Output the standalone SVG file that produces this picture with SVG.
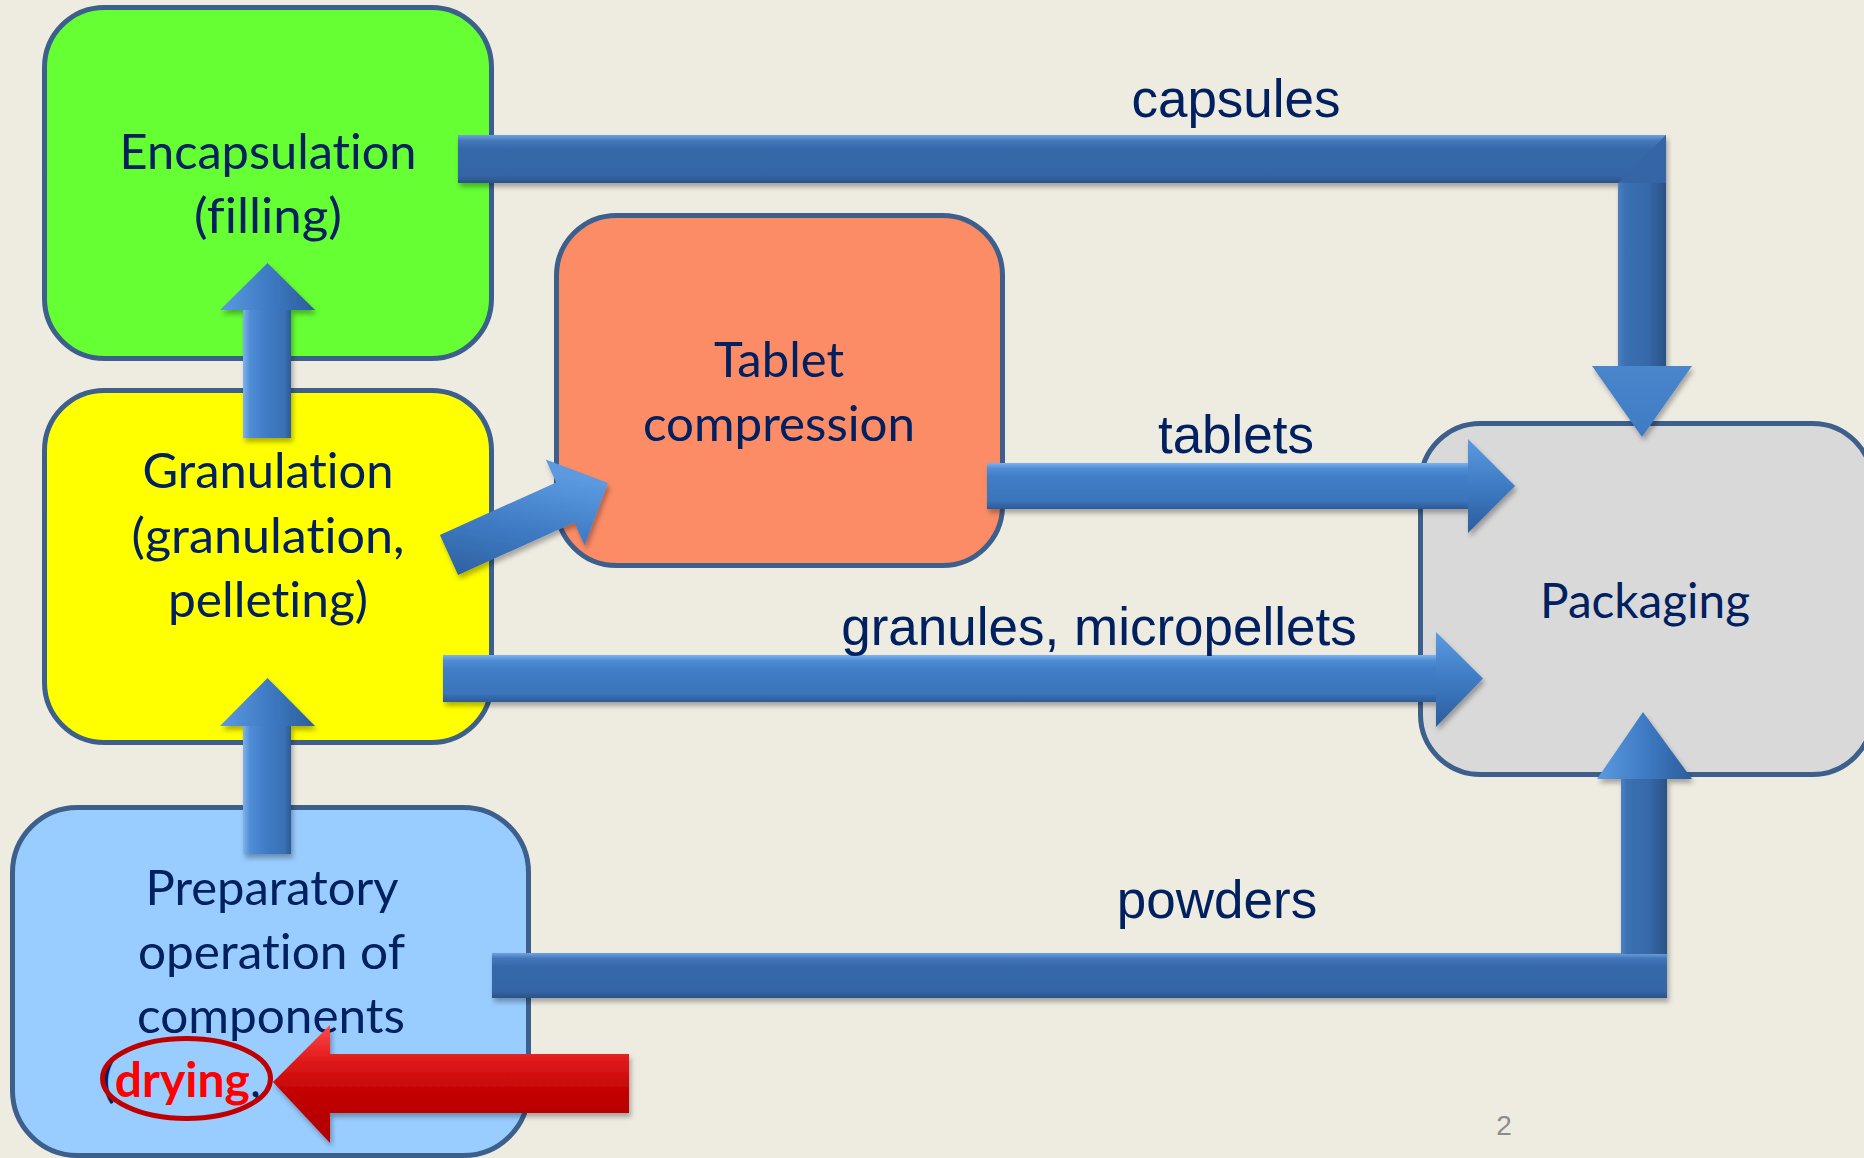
<svg xmlns="http://www.w3.org/2000/svg" width="1864" height="1158" viewBox="0 0 1864 1158">
  <defs>
    <style>
      .box { stroke: #3C5F8C; stroke-width: 5; }
      .nt { font-family: Lato, "Open Sans", "Liberation Sans", sans-serif; font-size: 48px; fill: #002060; text-anchor: middle; font-variant-ligatures: none; font-feature-settings: "liga" 0, "clig" 0; }
      .dry { font-family: Lato, "Open Sans", "Liberation Sans", sans-serif; font-size: 48px; font-variant-ligatures: none; font-feature-settings: "liga" 0, "clig" 0; }
      .lbl { font-family: "Liberation Sans", Arial, sans-serif; font-size: 53px; fill: #002060; text-anchor: middle; }
      .pg { font-family: "Liberation Sans", Arial, sans-serif; font-size: 28px; fill: #8C8C8C; text-anchor: middle; }
      .hshaft { fill: url(#gH); }
      .hshaftD { fill: url(#gHD); }
      .vshaft { fill: url(#gV); }
      .vshaftD { fill: url(#gVD); }
      .headH { fill: url(#gHeadH); }
      .headV { fill: url(#gHeadV); }
      .headVD { fill: url(#gHeadVD); }
    </style>
    <linearGradient id="gH" x1="0" y1="0" x2="0" y2="1">
      <stop offset="0" stop-color="#7DB2EC"/>
      <stop offset="0.12" stop-color="#4F8DD6"/>
      <stop offset="0.3" stop-color="#407EC7"/>
      <stop offset="0.82" stop-color="#3A74BA"/>
      <stop offset="1" stop-color="#2C5A96"/>
    </linearGradient>
    <linearGradient id="gHD" x1="0" y1="0" x2="0" y2="1">
      <stop offset="0" stop-color="#6FA2DC"/>
      <stop offset="0.12" stop-color="#4377BA"/>
      <stop offset="0.3" stop-color="#3668A9"/>
      <stop offset="0.85" stop-color="#3465A4"/>
      <stop offset="1" stop-color="#2A5288"/>
    </linearGradient>
    <linearGradient id="gV" x1="0" y1="0" x2="1" y2="0">
      <stop offset="0" stop-color="#7DB2EC"/>
      <stop offset="0.15" stop-color="#4F8DD6"/>
      <stop offset="0.5" stop-color="#3F7BC4"/>
      <stop offset="0.85" stop-color="#3A72B6"/>
      <stop offset="1" stop-color="#2C5A96"/>
    </linearGradient>
    <linearGradient id="gVD" x1="0" y1="0" x2="1" y2="0">
      <stop offset="0" stop-color="#4A80C4"/>
      <stop offset="0.15" stop-color="#3A70B2"/>
      <stop offset="0.6" stop-color="#3669AA"/>
      <stop offset="1" stop-color="#2A5288"/>
    </linearGradient>
    <linearGradient id="gHeadH" x1="0" y1="0" x2="0" y2="1">
      <stop offset="0" stop-color="#5C9AE0"/>
      <stop offset="0.5" stop-color="#3E7BC4"/>
      <stop offset="1" stop-color="#2D5D9C"/>
    </linearGradient>
    <linearGradient id="gHeadV" x1="0" y1="0" x2="1" y2="0">
      <stop offset="0" stop-color="#5C9AE0"/>
      <stop offset="0.5" stop-color="#3E7BC4"/>
      <stop offset="1" stop-color="#2D5D9C"/>
    </linearGradient>
    <linearGradient id="gHeadVD" x1="0" y1="0" x2="0" y2="1">
      <stop offset="0" stop-color="#4A86CC"/>
      <stop offset="1" stop-color="#3E7BC4"/>
    </linearGradient>
    <linearGradient id="gDiag" x1="0" y1="1" x2="0.3" y2="0">
      <stop offset="0" stop-color="#2F60A0"/>
      <stop offset="0.5" stop-color="#3E7BC4"/>
      <stop offset="1" stop-color="#5C9AE0"/>
    </linearGradient>
    <linearGradient id="gRed" x1="0" y1="0" x2="0" y2="1">
      <stop offset="0" stop-color="#FF4A4A"/>
      <stop offset="0.3" stop-color="#E01A1A"/>
      <stop offset="0.6" stop-color="#C00000"/>
      <stop offset="1" stop-color="#B00000"/>
    </linearGradient>
    <filter id="sh" x="-10%" y="-20%" width="120%" height="150%">
      <feDropShadow dx="2" dy="4" stdDeviation="2.5" flood-color="#000000" flood-opacity="0.3"/>
    </filter>
  </defs>

  <rect x="0" y="0" width="1864" height="1158" fill="#EEEBE1"/>

  <g id="node-encapsulation">
    <rect class="box" x="44.5" y="7.5" width="447" height="351" rx="60" fill="#66FF33"/>
    <text class="nt" x="268" y="169" textLength="297" lengthAdjust="spacingAndGlyphs">Encapsulation</text>
    <text class="nt" x="268" y="233" textLength="148" lengthAdjust="spacingAndGlyphs">(filling)</text>
  </g>

  <g id="node-granulation">
    <rect class="box" x="44.5" y="390.5" width="447" height="352" rx="60" fill="#FFFF00"/>
    <text class="nt" x="268" y="488" textLength="251" lengthAdjust="spacingAndGlyphs">Granulation</text>
    <text class="nt" x="268" y="553" textLength="273" lengthAdjust="spacingAndGlyphs">(granulation,</text>
    <text class="nt" x="268" y="617" textLength="200" lengthAdjust="spacingAndGlyphs">pelleting)</text>
  </g>

  <g id="node-tablet">
    <rect class="box" x="556.5" y="215.5" width="446" height="350" rx="60" fill="#FC8C66"/>
    <text class="nt" x="779" y="377" textLength="130" lengthAdjust="spacingAndGlyphs">Tablet</text>
    <text class="nt" x="779" y="441" textLength="272" lengthAdjust="spacingAndGlyphs">compression</text>
  </g>

  <g id="node-packaging">
    <rect class="box" x="1420.5" y="423.5" width="452" height="351" rx="60" fill="#D9D9D9"/>
    <text class="nt" x="1645" y="618" textLength="210" lengthAdjust="spacingAndGlyphs">Packaging</text>
  </g>

  <g id="node-preparatory">
    <rect class="box" x="12.5" y="807.5" width="516" height="348" rx="65" fill="#99CCFF"/>
    <text class="nt" x="272" y="905" textLength="253" lengthAdjust="spacingAndGlyphs">Preparatory</text>
    <text class="nt" x="271.5" y="969" textLength="267" lengthAdjust="spacingAndGlyphs">operation of</text>
    <text class="nt" x="271" y="1033" textLength="268" lengthAdjust="spacingAndGlyphs">components</text>
    <text class="dry" x="102" y="1097"><tspan fill="#002060">(</tspan><tspan fill="#FF0000" font-weight="bold">drying</tspan><tspan fill="#002060">,</tspan></text>
  </g>

  <g id="connectors">
    <!-- capsules: Encapsulation -> Packaging -->
    <g id="arrow-capsules" filter="url(#sh)">
      <rect class="hshaftD" x="458" y="135" width="1208" height="48"/>
      <rect class="vshaftD" x="1618" y="183" width="48" height="184"/>
      <polygon points="1666,135 1666,183 1618,183" fill="#3465A4"/>
      <polygon class="headVD" points="1592,366 1692,366 1642,437"/>
    </g>
    <!-- tablets: Tablet compression -> Packaging -->
    <g id="arrow-tablets" filter="url(#sh)">
      <rect class="hshaft" x="987" y="463" width="482" height="46"/>
      <polygon class="headH" points="1468,439 1515,486 1468,533"/>
    </g>
    <!-- granules: Granulation -> Packaging -->
    <g id="arrow-granules" filter="url(#sh)">
      <rect class="hshaft" x="443" y="655" width="994" height="47"/>
      <polygon class="headH" points="1436,632 1483,678.5 1436,727"/>
    </g>
    <!-- powders: Preparatory -> Packaging -->
    <g id="arrow-powders" filter="url(#sh)">
      <rect class="hshaftD" x="492" y="953" width="1175" height="45"/>
      <rect class="vshaftD" x="1621" y="778" width="46" height="176"/>
      <polygon class="headV" points="1597,779 1643,712 1692,779"/>
    </g>
    <!-- Granulation -> Tablet compression -->
    <g id="arrow-diag" filter="url(#sh)">
      <polygon fill="url(#gDiag)" points="439.9,535 556.1,482.4 545.8,459.6 608,483 584.6,545.2 574.3,522.4 458.1,575"/>
    </g>
    <!-- Granulation -> Encapsulation -->
    <g id="arrow-up1" filter="url(#sh)">
      <rect class="vshaft" x="243" y="309" width="48" height="129"/>
      <polygon class="headV" points="220,310 267.5,263 315,310"/>
    </g>
    <!-- Preparatory -> Granulation -->
    <g id="arrow-up2" filter="url(#sh)">
      <rect class="vshaft" x="243" y="725" width="48" height="129"/>
      <polygon class="headV" points="220,726 267.5,678 315,726"/>
    </g>
  </g>

  <g id="label-capsules"><text class="lbl" x="1236" y="117">capsules</text></g>
  <g id="label-tablets"><text class="lbl" x="1236" y="453">tablets</text></g>
  <g id="label-granules"><text class="lbl" x="1099" y="645">granules, micropellets</text></g>
  <g id="label-powders"><text class="lbl" x="1217" y="918">powders</text></g>

  <g id="annotation-drying">
    <ellipse cx="186.5" cy="1078.5" rx="84" ry="40" fill="none" stroke="#C00000" stroke-width="5"/>
    <polygon filter="url(#sh)" fill="url(#gRed)" points="273,1082 330,1025 330,1054 629,1054 629,1113 330,1113 330,1143"/>
  </g>

  <text class="pg" x="1504" y="1135">2</text>
</svg>
